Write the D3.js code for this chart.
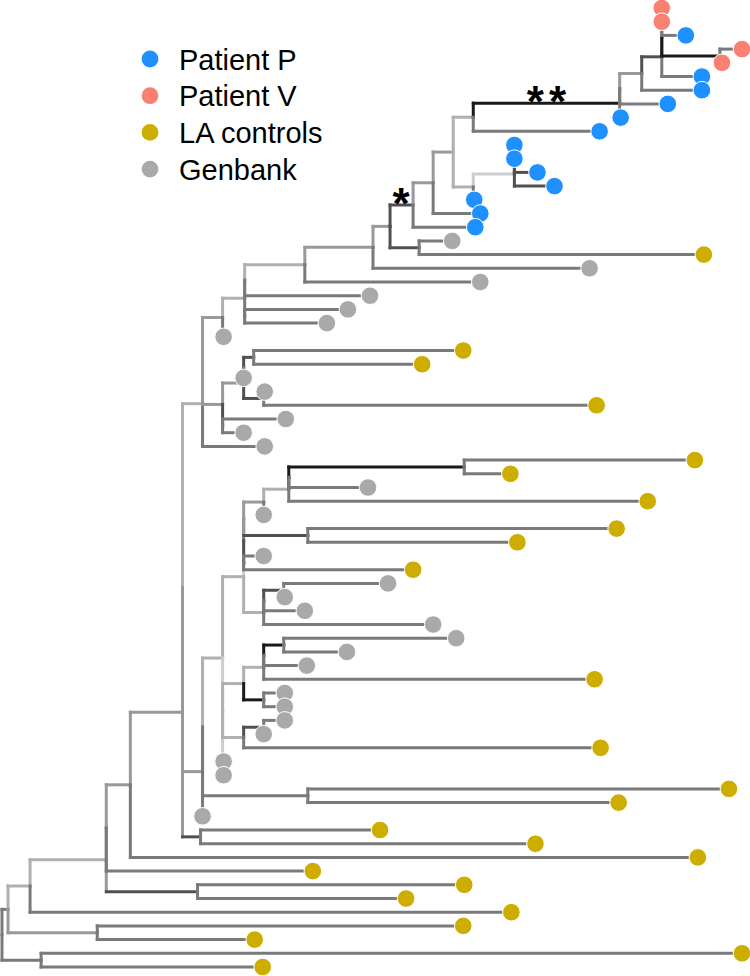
<!DOCTYPE html>
<html>
<head>
<meta charset="utf-8">
<script src="https://cdn.jsdelivr.net/npm/d3@7"></script>
<style>
  html, body { margin: 0; padding: 0; background: #fff; }
  svg { display: block; }
</style>
</head>
<body>
<svg id="chart" width="750" height="976"></svg>
<script>
// ---------- DATA ----------
// tip groups
const groupCodes  = ["P", "V", "L", "G"];
const groupLabels = ["Patient P", "Patient V", "LA controls", "Genbank"];
const groupColors = ["#1E90FF", "#FA8072", "#CDAD00", "#A9A9A9"];

// branch shade levels (label digit -> colour); tips default to level 4
const shadeLevels = [1, 2, 3, 4, 5, 6];
const shadeColors = ["#cdcdcd", "#b0b0b0", "#999999", "#7a7a7a", "#505050", "#1a1a1a"];

// annotated branches: [node name, text]
const branchMarks = [["K", "*"], ["E", "**"]];

// Tree clades in Newick
// tip label = group code [+shade]; internal label = shade[v verticalShade][_name]; ":" branch length
const cladeC  = "(V:0,(V:0,P:24)4:0)4:0";
const cladeD  = "(V:22,V:2)6:58";
const cladeA  = "((" + cladeC + "," + cladeD + ")4:0,P:40)5:20";
const cladeB  = "(" + cladeA + ",P:60)3:22";
const cladeE  = "((" + cladeB + ",P:48)4:0,P:1)6_E:146";
const cladeF  = "(" + cladeE + ",P:126)2:20";
const cladeI  = "(((P:0,P:0)4:0,P5:23)5:0,P5:40)1:41";
const cladeH  = "(" + cladeI + ",P:1)2:20";
const cladeG  = "(" + cladeF + "," + cladeH + ")3:20";
const cladeJ  = "(" + cladeG + ",P:47)3:20";
const cladeK  = "(" + cladeJ + ",P:62)5_K:23";
const cladeM  = "(G:33,L:284)5:29";
const cladeL  = "(" + cladeK + "," + cladeM + ")3:17";
const cladeN  = "(" + cladeL + ",G:216)3:68";
const cladeO  = "(" + cladeN + ",G:175)2:60";
const cladeP  = "((" + cladeO + ",G:125)3:0,(G:103,G:82)4:0)2:22";
const cladeR  = "(" + cladeP + ",G:1)3:20";
const cladeV  = "(L:209,L:168)5:10";
const cladeW  = "(G:1,L:332)5:20";
const cladeU  = "((" + cladeV + ",G:0)3:0," + cladeW + ")3:21";
const cladeT  = "(" + cladeU + ",(G:63,G:21)5:0)3:20";
const cladeS  = "((" + cladeR + "," + cladeT + ")3:0,G:62)2:20";
const cladeAF = "(L:230,L:46)6:175";
const cladeAG = "((" + cladeAF + ",G:79)6:0,L:358)2:25";
const cladeAH = "(" + cladeAG + ",G:0)3:20";
const cladeAI = "(L:308,L:209)5v3:64";
const cladeAJ = "(G:20,L:169)5:0";
const cladeAL = "(G:104,G:1)5:20";
const cladeAK = "((" + cladeAL + ",G:41)5:0,G:169)2:20";
const cladeAC = "(((" + cladeAH + "," + cladeAI + ")4:0," + cladeAJ + ")1:0," + cladeAK + ")2:21";
const cladeAN = "(G:172,G:63)6:20";
const cladeAM = "((" + cladeAN + ",G:43)5:0,L:330)2:20";
const cladeAO = "(G:21,G:21)6:20";
const cladeAD = "(" + cladeAM + "," + cladeAO + ")2:21";
const cladeAP = "(G:21,G:0)5:20";
const cladeAE = "(" + cladeAP + ",L:356)2:21";
const cladeAA = "(" + cladeAC + ",((" + cladeAD + "," + cladeAE + ")1:0,(G:1,G:1)1:0)1:0)2:20";
const cladeAB = "(L:420,L:310)4:105";
const cladeY  = "((" + cladeAA + "," + cladeAB + ")3:0,G:0)3:20";
const cladeZ  = "(L:179,L:334)5v3:18";
const cladeX  = "((" + cladeS + "," + cladeY + ")3:0," + cladeZ + ")3:52";
const cladeAQ = "(" + cladeX + ",L:566)3:24";
const cladeAS = "(L:266,L:208)5v3:91";
const cladeAR = "((" + cladeAQ + ",L:206)3:0," + cladeAS + ")2:76";
const cladeAT = "(" + cladeAR + ",L:480)2:22";
const cladeAV = "(L:365,L:157)3:89";
const cladeAU = "(" + cladeAT + "," + cladeAV + ")4:6";
const cladeAW = "(L:699,L:221)4:39";
const treeNewick = "(" + cladeAU + "," + cladeAW + ")5;";

// ---------- PARSE ----------
function parseNewick(s) {
  let i = 0;
  function node() {
    const n = {};
    if (s[i] === "(") {
      i++;
      n.children = [node()];
      while (s[i] === ",") { i++; n.children.push(node()); }
      i++; // ')'
    }
    let lab = "";
    while (i < s.length && !",():;".includes(s[i])) lab += s[i++];
    n.label = lab;
    n.length = 0;
    if (s[i] === ":") {
      i++;
      let num = "";
      while (i < s.length && !",();".includes(s[i])) num += s[i++];
      n.length = +num;
    }
    return n;
  }
  return node();
}

const root = d3.hierarchy(parseNewick(treeNewick));
root.each(d => {
  const lab = d.data.label || "";
  const m = lab.match(/^([PVLG])?(\d)?(?:v(\d))?(?:_(\w+))?$/) || [];
  d.group = m[1] ? groupCodes.indexOf(m[1]) : -1;
  d.shade = m[2] ? +m[2] : 4;
  d.vshade = m[3] ? +m[3] : d.shade;
  d.name = m[4] || null;
});
root.eachBefore(d => { d.depthLen = d.parent ? d.parent.depthLen + d.data.length : 0; });

const leaves = root.leaves();
leaves.forEach((d, i) => d.tipIndex = i);

// ---------- SCALES ----------
const maxDepth = d3.max(leaves, d => d.depthLen);
const xScale = d3.scaleLinear().domain([0, maxDepth]).range([2, 742]);
const yScale = d3.scaleLinear().domain([0, leaves.length - 1]).range([8, 967]);
const shadeScale = d3.scaleOrdinal().domain(shadeLevels).range(shadeColors);
const groupScale = d3.scaleOrdinal().domain(d3.range(groupCodes.length)).range(groupColors);

root.eachAfter(d => {
  d.px = xScale(d.depthLen);
  d.py = d.children ? d3.mean(d.children, c => c.py) : yScale(d.tipIndex);
});

// ---------- DRAW ----------
const svg = d3.select("#chart");
svg.append("rect").attr("width", 750).attr("height", 976).attr("fill", "#fff");

const edges = root.descendants().filter(d => d.parent);
const edgeG = svg.append("g")
  .attr("fill", "none")
  .attr("stroke-width", 3)
  .attr("stroke-linecap", "square");

const edgeSel = edgeG.selectAll("g")
  .data(edges)
  .join("g");
// vertical part (from parent's y to this node's y, at parent's x)
edgeSel.append("path")
  .attr("d", d => `M${d.parent.px},${d.parent.py}V${d.py}`)
  .attr("stroke", d => shadeScale(d.vshade));
// horizontal part
edgeSel.append("path")
  .attr("d", d => `M${d.parent.px},${d.py}H${d.px}`)
  .attr("stroke", d => shadeScale(d.shade));

svg.append("g")
  .selectAll("circle")
  .data(leaves)
  .join("circle")
  .attr("cx", d => d.px)
  .attr("cy", d => d.py)
  .attr("r", 8.8)
  .attr("fill", d => groupScale(d.group))
  .attr("stroke", "#fff")
  .attr("stroke-width", 1);

// branch annotations
const markG = svg.append("g");
const markSize = 44;
branchMarks.forEach(([nm, txt]) => {
  const n = root.descendants().find(d => d.name === nm);
  if (!n) return;
  const cx = (n.parent.px + n.px) / 2;
  const cy = n.py - 12;
  const ls = txt.length > 1 ? 5 : 0;
  const t = markG.append("text")
    .attr("x", 0).attr("y", 0)
    .attr("font-family", "Liberation Sans, Arial, Helvetica, sans-serif")
    .attr("font-weight", "bold")
    .attr("font-size", markSize)
    .attr("letter-spacing", ls)
    .attr("fill", "#000")
    .text(txt);
  const bb = t.node().getBBox();
  const gx = bb.x + (bb.width - ls) / 2;
  const gy = -0.58 * markSize;
  t.attr("x", cx - gx).attr("y", cy - gy);
});

// legend
const legend = svg.append("g").attr("transform", "translate(150,59)");
const items = legend.selectAll("g")
  .data(groupLabels)
  .join("g")
  .attr("transform", (d, i) => `translate(0,${i * 36.7})`);
items.append("circle")
  .attr("r", 8.4)
  .attr("fill", (d, i) => groupColors[i]);
items.append("text")
  .attr("x", 29)
  .attr("y", 10.5)
  .attr("font-family", "Liberation Sans, Arial, Helvetica, sans-serif")
  .attr("font-size", 29)
  .attr("fill", "#000")
  .text(d => d);
</script>
</body>
</html>
